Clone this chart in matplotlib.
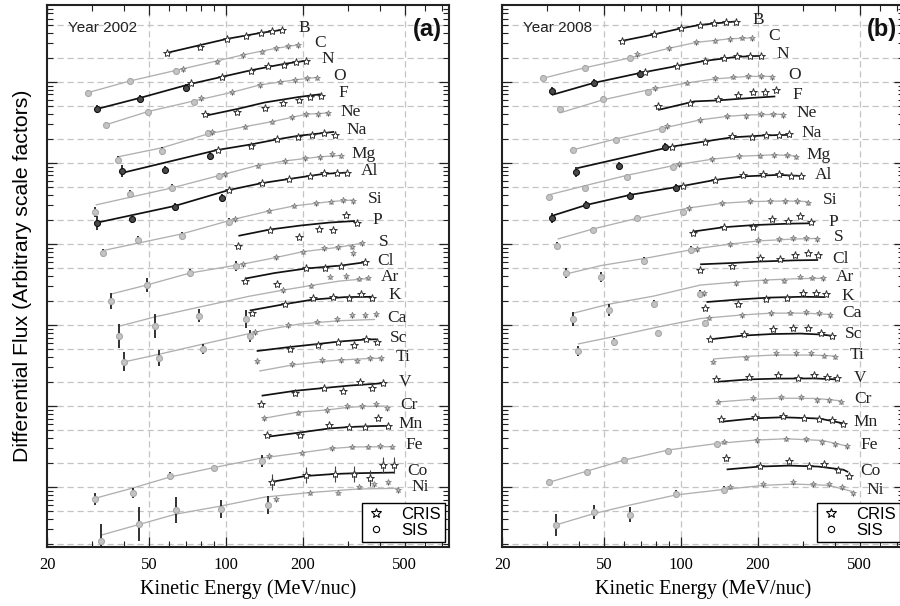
import numpy as np
import matplotlib
matplotlib.use("Agg")
import matplotlib.pyplot as plt
from matplotlib.lines import Line2D
from matplotlib.ticker import FixedLocator, NullFormatter, FixedFormatter, LogLocator

elements = ['B', 'C', 'N', 'O', 'F', 'Ne', 'Na', 'Mg', 'Al', 'Si', 'P', 'S',
            'Cl', 'Ar', 'K', 'Ca', 'Sc', 'Ti', 'V', 'Cr', 'Mn', 'Fe', 'Co', 'Ni']
years = ['2002', '2008']
panel_tags = ['(a)', '(b)']
x_tick_values = [20, 50, 100, 200, 500]
x_tick_labels = ['20', '50', '100', '200', '500']

# ---------------- Year 2002 (panel a) ----------------
cris_E_2002 = [
    [59, 79, 101, 120, 137, 151, 166], [68, 92, 117, 138, 157, 175, 192],
    [73, 97, 125, 146, 169, 188, 205], [80, 106, 136, 163, 186, 208, 227],
    [83, 111, 142, 168, 193, 213, 235], [88, 119, 152, 181, 206, 230, 251],
    [93, 125, 159, 191, 218, 242, 266], [99, 133, 170, 204, 233, 261, 283],
    [103, 138, 177, 213, 241, 271, 297], [109, 147, 185, 225, 257, 287, 315],
    [112, 149, 194, 231, 263, 294, 325], [117, 157, 200, 241, 275, 310, 340, 313],
    [119, 159, 206, 244, 282, 350], [168, 215, 255, 294, 332, 360],
    [127, 170, 220, 263, 304, 338, 372], [130, 175, 227, 271, 310, 350, 387],
    [178, 230, 275, 316, 353, 389], [132, 182, 237, 283, 325, 366, 404],
    [137, 186, 242, 288, 333, 372, 410], [141, 192, 248, 297, 342, 386, 426],
    [145, 195, 253, 302, 350, 393, 431], [148, 199, 259, 310, 358, 401, 445],
    [151, 206, 266, 318, 366, 413, 456], [157, 213, 275, 330, 381, 430, 472]]
cris_F_2002 = [
    [2.29e5, 2.67e5, 3.40e5, 3.70e5, 4.03e5, 4.27e5, 4.39e5],
    [1.45e5, 1.78e5, 2.16e5, 2.36e5, 2.60e5, 2.74e5, 2.87e5],
    [9.65e4, 1.16e5, 1.37e5, 1.57e5, 1.64e5, 1.78e5, 1.82e5],
    [6.3e4, 7.47e4, 9.19e4, 1.01e5, 1.06e5, 1.11e5, 1.13e5],
    [4.02e4, 4.30e4, 4.74e4, 5.56e4, 6.0e4, 6.47e4, 6.72e4],
    [2.40e4, 2.81e4, 3.24e4, 3.66e4, 3.99e4, 4.02e4, 4.10e4],
    [1.45e4, 1.64e4, 1.96e4, 2.12e4, 2.22e4, 2.37e4, 2.22e4],
    [7.26e3, 9.27e3, 1.06e4, 1.14e4, 1.18e4, 1.29e4, 1.23e4],
    [4.64e3, 5.63e3, 6.35e3, 6.92e3, 7.48e3, 7.48e3, 7.61e3],
    [2.04e3, 2.58e3, 2.97e3, 3.18e3, 3.33e3, 3.49e3, 3.39e3],
    [944, 1.49e3, 1.23e3, 1.53e3, 1.49e3, 2.28e3, 1.80e3],
    [561, 685, 803, 885, 910, 925, 1.02e3, 768],
    [349, 320, 501, 510, 535, 594],
    [270, 305, 395, 402, 373, 384],
    [140, 181, 213, 223, 217, 241, 213],
    [81.8, 100, 110, 118, 133, 133, 136],
    [50.5, 56.1, 62.2, 56.6, 66.6, 61.6],
    [36.0, 33.0, 37.0, 37.0, 36.3, 38.8, 38.8],
    [10.6, 14.6, 16.6, 15.5, 19.9, 16.6, 19.1],
    [7.06, 8.27, 8.93, 10.0, 10.0, 10.6, 9.38],
    [4.39, 4.39, 5.83, 5.56, 5.56, 7.18, 5.71],
    [2.43, 2.66, 3.01, 3.15, 3.15, 3.21, 3.15],
    [1.16, 1.42, 1.46, 1.46, 1.29, 1.87, 1.87],
    [0.705, 0.852, 0.852, 1.01, 1.08, 1.14, 0.919]]
cris_err_2002 = [0.04, 0.08, 0.04, 0.08, 0.04, 0.08, 0.04, 0.08, 0.04, 0.08, 0.04, 0.08,
                 0.04, 0.08, 0.04, 0.08, 0.04, 0.08, 0.04, 0.08, 0.04, 0.08, 0.25, 0.08]
sis_E_2002 = [
    [], [28.9, 42.3, 63.8], [31.5, 46.2, 69.9], [33.9, 49.5, 75.1], [],
    [38.0, 56.2, 85.1], [39.4, 57.8, 87.0], [30.8, 42.3, 61.8, 94.3],
    [31.3, 43.1, 63.3, 96.3], [33.2, 45.4, 67.2, 103], [], [35.6, 49.0, 72.4, 110],
    [], [38.2, 52.9, 78.8, 120], [], [40.0, 54.9, 81.7, 124], [], [], [], [], [],
    [30.8, 43.3, 60.5, 90.1, 138], [], [32.5, 45.9, 63.9, 95.7, 146]]
sis_F_2002 = [
    [], [7.38e4, 1.03e5, 1.38e5], [4.68e4, 6.12e4, 8.37e4], [2.95e4, 4.3e4, 5.62e4], [],
    [1.09e4, 1.42e4, 2.33e4], [8.04e3, 8.2e3, 1.22e4], [2.48e3, 4.15e3, 4.96e3, 6.92e3],
    [1.83e3, 2.04e3, 2.89e3, 3.73e3], [781, 1.12e3, 1.26e3, 1.86e3], [], [199, 311, 438, 539],
    [], [73.1, 98, 130, 118], [], [35.3, 38.8, 50.1, 73.1], [], [], [], [], [],
    [0.711, 0.837, 1.37, 1.73, 2.09], [], [0.216, 0.347, 0.52, 0.53, 0.60]]
sis_err_2002 = [
    [], [0.09, 0.09, 0.09], [0.12, 0.12, 0.12], [0.09, 0.09, 0.09], [],
    [0.12, 0.12, 0.09], [0.19, 0.12, 0.12], [0.15, 0.12, 0.1, 0.1],
    [0.22, 0.12, 0.12, 0.12], [0.12, 0.12, 0.12, 0.12], [], [0.25, 0.22, 0.12, 0.15],
    [], [0.4, 0.4, 0.2, 0.3], [], [0.3, 0.25, 0.15, 0.18], [], [], [], [], [],
    [0.19, 0.15, 0.12, 0.09, 0.19], [], [0.6, 0.62, 0.45, 0.29, 0.29]]
line_E_2002 = [
    [59, 101, 137, 166], [28.9, 42.3, 67.8, 117, 157, 192],
    [31.4, 46.2, 73, 125, 169, 204], [33.9, 49.5, 75.1, 106, 136, 186, 228],
    [82.3, 111, 142, 193, 235], [37.9, 56.3, 85.1, 119, 152, 206, 251],
    [39.3, 93.1, 125, 158, 191, 265], [31.0, 61.6, 98.5, 132, 170, 233, 283],
    [31.3, 63.3, 103, 138, 177, 241, 297], [33.2, 67.2, 109, 147, 185, 257, 314],
    [112, 149, 196, 255, 320], [35.6, 49.0, 72.4, 117, 157, 200, 275, 340],
    [119, 155, 206, 282, 344], [38.6, 52.9, 78.5, 124, 168, 215, 279, 359],
    [124, 170, 219, 292, 376], [39.8, 55.3, 81.8, 142, 195, 279, 383],
    [132, 177, 229, 279, 352, 389], [135, 182, 236, 282, 362, 404],
    [138, 186, 242, 306, 410], [141, 192, 248, 297, 340, 426],
    [146, 195, 253, 302, 350, 431], [30.8, 43.3, 60.5, 89.9, 138, 199, 259, 310, 445],
    [151, 206, 265, 318, 458], [32.7, 63.9, 95.7, 142, 213, 329, 472]]
line_F_2002 = [
    [2.29e5, 3.40e5, 4.03e5, 4.39e5], [7.38e4, 1.03e5, 1.45e5, 2.16e5, 2.6e5, 2.87e5],
    [4.64e4, 6.35e4, 9.46e4, 1.39e5, 1.67e5, 1.82e5],
    [2.95e4, 4.3e4, 5.83e4, 7.47e4, 9.19e4, 1.06e5, 1.14e5],
    [3.8e4, 4.64e4, 5.58e4, 6.52e4, 7.05e4],
    [1.19e4, 1.54e4, 2.28e4, 2.81e4, 3.24e4, 3.99e4, 4.14e4],
    [7.53e3, 1.45e4, 1.69e4, 1.95e4, 2.16e4, 2.42e4],
    [3.03e3, 4.92e3, 7.26e3, 9.27e3, 1.06e4, 1.19e4, 1.24e4],
    [1.83e3, 2.95e3, 4.64e3, 5.63e3, 6.35e3, 7.33e3, 7.61e3],
    [831, 1.33e3, 2.04e3, 2.55e3, 2.95e3, 3.34e3, 3.49e3],
    [1.26e3, 1.51e3, 1.69e3, 1.84e3, 1.92e3],
    [241, 311, 438, 566, 681, 803, 910, 1.02e3],
    [374, 438, 498, 542, 590],
    [97.2, 126, 166, 227, 270, 307, 349, 374],
    [151, 181, 206, 221, 223],
    [34.9, 43.8, 58.3, 86.7, 103, 113, 117],
    [47.7, 53.4, 58.3, 62.6, 66.2, 66.6],
    [27.0, 32.1, 35.4, 37.0, 38.6, 38.8],
    [13.4, 15.4, 16.7, 17.9, 19.1],
    [7.06, 8.43, 8.93, 9.59, 9.87, 10.0],
    [4.18, 4.71, 5.28, 5.5, 5.61, 5.71],
    [0.726, 0.973, 1.33, 1.74, 2.28, 2.66, 2.99, 3.12, 3.15],
    [1.16, 1.37, 1.45, 1.48, 1.51],
    [0.256, 0.464, 0.583, 0.752, 0.855, 0.946, 0.965]]

# ---------------- Year 2008 (panel b) ----------------
cris_E_2008 = [
    [58.8, 78.5, 100, 119, 135, 150, 165], [67.2, 89.8, 115, 136, 155, 173, 190],
    [72.4, 96.3, 124, 147, 166, 186, 205], [79.2, 106, 136, 160, 183, 205, 227],
    [81.7, 109, 140, 167, 191, 213, 236], [88.0, 119, 151, 179, 205, 229, 251],
    [92.0, 124, 159, 189, 216, 241, 265], [98.6, 132, 169, 203, 231, 259, 283],
    [102, 136, 175, 210, 241, 269, 295], [108, 145, 186, 223, 255, 285, 313],
    [112, 147, 192, 228, 263, 293, 323], [116, 156, 200, 241, 275, 309, 340],
    [119, 158, 204, 244, 279, 313, 345], [123, 165, 213, 253, 292, 326, 359],
    [124, 168, 216, 259, 300, 337, 370], [129, 174, 225, 268, 308, 347, 382],
    [130, 177, 229, 274, 315, 352, 389], [134, 180, 235, 281, 323, 363, 401],
    [137, 184, 240, 286, 330, 372, 409], [140, 191, 246, 295, 340, 378, 422],
    [143, 195, 251, 302, 348, 389, 430], [148, 198, 258, 308, 357, 401, 445],
    [150, 204, 265, 316, 363, 412, 455], [155, 210, 274, 328, 379, 426, 469]]
cris_F_2008 = [
    [3.21e5, 3.86e5, 4.61e5, 5.06e5, 5.31e5, 5.5e5, 5.43e5],
    [2.22e5, 2.6e5, 3.08e5, 3.23e5, 3.40e5, 3.53e5, 3.47e5],
    [1.34e5, 1.57e5, 1.83e5, 2.0e5, 2.06e5, 2.1e5, 2.1e5],
    [8.31e4, 9.82e4, 1.11e5, 1.16e5, 1.19e5, 1.19e5, 1.14e5],
    [5.05e4, 5.56e4, 6.17e4, 6.91e4, 7.47e4, 7.47e4, 7.97e4],
    [2.87e4, 3.40e4, 3.8e4, 3.8e4, 3.99e4, 3.99e4, 3.91e4],
    [1.59e4, 1.83e4, 2.16e4, 2.12e4, 2.22e4, 2.22e4, 2.26e4],
    [9.6e3, 1.11e4, 1.22e4, 1.23e4, 1.26e4, 1.26e4, 1.2e4],
    [5.21e3, 6.17e3, 7.12e3, 7.26e3, 7.33e3, 6.92e3, 6.92e3],
    [2.79e3, 3.18e3, 3.39e3, 3.39e3, 3.39e3, 3.39e3, 3.24e3],
    [1.35e3, 1.63e3, 1.63e3, 2.02e3, 1.92e3, 2.23e3, 1.89e3],
    [862, 990, 1.12e3, 1.14e3, 1.18e3, 1.18e3, 1.15e3],
    [484, 535, 666, 647, 721, 768, 721],
    [246, 327, 352, 352, 395, 384, 377],
    [161, 181, 207, 213, 246, 246, 241],
    [123, 131, 140, 142, 144, 140, 133],
    [66.6, 77.4, 88.4, 91, 92.6, 79, 73.7],
    [35.3, 39.5, 44.7, 44.7, 44.7, 41.8, 40.6],
    [21.3, 23.0, 24.1, 22.3, 24.1, 23.0, 22.0],
    [11.3, 12.5, 12.8, 12.8, 11.9, 11.7, 11.3],
    [6.86, 7.39, 7.53, 7.18, 6.86, 6.72, 6.0],
    [3.63, 3.81, 3.95, 3.89, 3.6, 3.40, 3.21],
    [2.30, 1.84, 2.09, 1.83, 1.92, 1.62, 1.37],
    [1.01, 1.09, 1.16, 1.09, 1.08, 1.0, 0.837]]
cris_err_2008 = [0.04, 0.08, 0.04, 0.08, 0.04, 0.08, 0.04, 0.08, 0.04, 0.08, 0.04, 0.08,
                 0.04, 0.08, 0.04, 0.08, 0.04, 0.08, 0.04, 0.08, 0.04, 0.08, 0.1, 0.08]
sis_E_2008 = [
    [], [28.9, 42.3, 63.3], [31.3, 45.7, 69.3], [33.6, 49.5, 74.5], [],
    [37.8, 55.8, 84.4], [38.9, 57.5, 86.9], [30.4, 42.1, 61.4, 93.4],
    [31.3, 42.7, 63.3, 95.7], [32.9, 45.3, 67.2, 102], [], [35.6, 48.8, 71.8, 110],
    [], [38.0, 52.4, 78.2, 119], [], [39.7, 54.8, 81.2, 124], [], [], [], [], [],
    [30.4, 42.9, 59.9, 89.4, 138], [], [32.4, 45.7, 63.3, 95.4, 147]]
sis_F_2008 = [
    [], [1.11e5, 1.5e5, 1.95e5], [7.75e4, 9.73e4, 1.26e5], [4.57e4, 6.17e4, 7.6e4], [],
    [1.45e4, 1.9e4, 2.61e4], [7.81e3, 9.27e3, 1.58e4], [3.78e3, 4.88e3, 6.79e3, 8.93e3],
    [2.08e3, 3.03e3, 3.92e3, 4.96e3], [957, 1.49e3, 2.07e3, 2.51e3], [], [438, 395, 625, 843],
    [], [118, 153, 180, 241], [], [47.7, 61.2, 79, 105], [], [], [], [], [],
    [1.14, 1.52, 2.15, 2.81, 3.43], [], [0.340, 0.487, 0.455, 0.813, 0.927]]
sis_err_2008 = [
    [], [0.09, 0.09, 0.09], [0.12, 0.12, 0.12], [0.09, 0.09, 0.09], [],
    [0.09, 0.09, 0.09], [0.15, 0.12, 0.12], [0.09, 0.09, 0.09, 0.09],
    [0.15, 0.12, 0.12, 0.12], [0.09, 0.09, 0.09, 0.09], [], [0.15, 0.15, 0.12, 0.12],
    [], [0.22, 0.19, 0.12, 0.12], [], [0.15, 0.12, 0.09, 0.09], [], [], [], [], [],
    [0.09, 0.09, 0.09, 0.09, 0.09], [], [0.35, 0.22, 0.24, 0.12, 0.12]]
line_E_2008 = [
    [58.8, 78.5, 101, 119, 164], [28.9, 42.3, 63.3, 89.8, 115, 155, 190],
    [31.3, 45.7, 69.3, 96.3, 124, 166, 205], [33.6, 49.5, 74.4, 106, 136, 183, 227],
    [81.5, 113, 140, 190, 234], [37.8, 55.8, 84.4, 119, 151, 179, 253],
    [39.3, 92.0, 124, 158, 215, 265], [30.4, 41.9, 61.4, 98.5, 132, 169, 231, 283],
    [31.3, 42.7, 63.3, 102, 136, 175, 240, 295], [33.0, 45.3, 67.3, 108, 145, 186, 255, 313],
    [111, 147, 192, 263, 324], [35.6, 48.8, 71.7, 118, 157, 200, 275, 340],
    [119, 158, 204, 279, 344], [38.0, 52.4, 78.1, 119, 165, 213, 292, 359],
    [126, 170, 222, 298, 367], [39.6, 54.8, 81.3, 119, 173, 225, 308, 382],
    [130, 176, 228, 293, 352, 389], [134, 180, 233, 323, 401],
    [138, 184, 240, 331, 409], [139, 190, 246, 338, 422],
    [144, 195, 250, 348, 430], [30.4, 42.9, 60.0, 89.4, 138, 198, 258, 357, 445],
    [151, 204, 265, 344, 431, 451], [32.4, 45.7, 63.3, 95.4, 146, 211, 275, 379, 469]]
line_F_2008 = [
    [3.21e5, 3.86e5, 4.61e5, 5.06e5, 5.58e5],
    [1.11e5, 1.5e5, 1.98e5, 2.6e5, 3.08e5, 3.40e5, 3.5e5],
    [6.91e4, 9.73e4, 1.29e5, 1.57e5, 1.82e5, 2.04e5, 2.1e5],
    [4.14e4, 6.0e4, 7.97e4, 9.73e4, 1.09e5, 1.17e5, 1.17e5],
    [4.51e4, 5.75e4, 5.92e4, 6.35e4, 6.62e4],
    [1.45e4, 1.98e4, 2.67e4, 3.4e4, 3.75e4, 3.91e4, 3.99e4],
    [8.61e3, 1.59e4, 1.84e4, 2.07e4, 2.19e4, 2.22e4],
    [4.03e3, 5.21e3, 7.02e3, 9.6e3, 1.11e4, 1.21e4, 1.26e4, 1.22e4],
    [2.22e3, 3.03e3, 4.03e3, 5.21e3, 6.17e3, 6.82e3, 7.12e3, 6.92e3],
    [1.15e3, 1.53e3, 2.07e3, 2.79e3, 3.18e3, 3.34e3, 3.39e3, 3.34e3],
    [1.42e3, 1.61e3, 1.71e3, 1.78e3, 1.8e3],
    [426, 542, 661, 885, 999, 1.09e3, 1.15e3, 1.17e3],
    [561, 582, 607, 628, 634],
    [140, 181, 227, 311, 339, 359, 374, 377],
    [192, 207, 218, 223, 221],
    [58.3, 72.0, 94.4, 120, 133, 140, 140, 135],
    [66.6, 74.1, 77.4, 78.4, 76.3, 73.7],
    [38.1, 41.0, 42.6, 42.6, 41.4],
    [19.9, 21.3, 21.8, 21.9, 21.3],
    [11.2, 12.1, 12.5, 12.4, 11.6],
    [6.4, 7.06, 7.26, 7.01, 6.12],
    [1.14, 1.57, 2.15, 2.87, 3.44, 3.81, 3.94, 3.76, 3.21],
    [1.65, 1.79, 1.84, 1.79, 1.64, 1.53],
    [0.340, 0.470, 0.600, 0.797, 0.932, 1.05, 1.09, 1.05, 0.880]]

# ---------------- drawing ----------------
SERIF = ['Liberation Serif', 'DejaVu Serif']
SANS = ['Liberation Sans', 'DejaVu Sans']

W, H = 900, 606
fig = plt.figure(figsize=(W / 100, H / 100), dpi=100)
ax_a = fig.add_axes([47 / W, 1 - 547 / H, 402 / W, 542 / H])
ax_b = fig.add_axes([502 / W, 1 - 547 / H, 402 / W, 542 / H])

panels = [
    (ax_a, cris_E_2002, cris_F_2002, cris_err_2002, sis_E_2002, sis_F_2002, sis_err_2002,
     line_E_2002, line_F_2002),
    (ax_b, cris_E_2008, cris_F_2008, cris_err_2008, sis_E_2008, sis_F_2008, sis_err_2008,
     line_E_2008, line_F_2008),
]

grid_y = [0.2, 0.5, 1, 2, 5, 10, 20, 50, 100, 200, 500, 1e3, 2e3, 5e3,
          1e4, 2e4, 5e4, 1e5, 2e5, 5e5]
grid_x = [50, 100, 200, 500]

for p, (ax, cE, cF, cErr, sE, sF, sErr, lE, lF) in enumerate(panels):
    ax.set_xscale('log')
    ax.set_yscale('log')
    ax.set_xlim(20, 745)
    ax.set_ylim(0.182, 8.9e5)

    for gy in grid_y:
        ax.axhline(gy, color='#c4c4c4', lw=0.9, ls=(0, (5, 3)), zorder=0)
    for gx in grid_x:
        ax.axvline(gx, color='#c4c4c4', lw=0.9, ls=(0, (5, 3)), zorder=0)

    for i, el in enumerate(elements):
        dark = (i % 2 == 0)
        lcol = '#111111' if dark else '#b0b0b0'
        ax.plot(lE[i], lF[i], color=lcol, lw=1.25 if dark else 0.95, zorder=2,
                solid_capstyle='butt')
        if len(sE[i]):
            F = np.array(sF[i])
            r = np.array(sErr[i])
            yerr = [F - F / (1 + r), F * r]
            ax.errorbar(sE[i], F, yerr=yerr, fmt='o', ms=4.3,
                        mfc='#4a4a4a' if dark else '#c4c4c4',
                        mec='#111111' if dark else '#a8a8a8', mew=0.8,
                        ecolor='#222222', elinewidth=1.3, capsize=0, zorder=3)
        F = np.array(cF[i])
        r = cErr[i]
        yerr = [F - F / (1 + r), F * r]
        if dark:
            ax.errorbar(cE[i], F, yerr=yerr, fmt='*', ms=6, mfc='white',
                        mec='#333333', mew=0.7, ecolor='#444444', elinewidth=0.8,
                        capsize=0, zorder=4)
        else:
            ax.errorbar(cE[i], F, yerr=yerr, fmt='*', ms=3.8, mfc='#bdbdbd',
                        mec='#7a7a7a', mew=0.5, ecolor='#555555', elinewidth=0.8,
                        capsize=0, zorder=4)
        ax.annotate(el, xy=(lE[i][-1], lF[i][-1]), xytext=(16, 1),
                    textcoords='offset points', ha='center', va='center',
                    fontsize=12.5, family=SERIF, color='#222222', zorder=5)

    # ticks
    ax.xaxis.set_major_locator(FixedLocator(x_tick_values))
    ax.xaxis.set_major_formatter(FixedFormatter(x_tick_labels))
    ax.xaxis.set_minor_locator(FixedLocator([30, 40, 60, 70, 80, 90, 300, 400, 600, 700]))
    ax.xaxis.set_minor_formatter(NullFormatter())
    ax.yaxis.set_major_locator(LogLocator(base=10, numticks=20))
    ax.yaxis.set_minor_locator(LogLocator(base=10, subs=np.arange(2, 10), numticks=20))
    ax.yaxis.set_major_formatter(NullFormatter())
    ax.yaxis.set_minor_formatter(NullFormatter())
    ax.tick_params(which='both', direction='in', top=True, right=True, color='#222222')
    ax.tick_params(which='major', length=7, width=0.9)
    ax.tick_params(which='minor', length=4, width=0.8)
    for lab in ax.get_xticklabels():
        lab.set_fontfamily(SERIF)
        lab.set_fontsize(12)
    ax.tick_params(axis='x', pad=7)
    for s in ax.spines.values():
        s.set_linewidth(1.5)
        s.set_color('#222222')

    ax.set_xlabel('Kinetic Energy (MeV/nuc)', fontsize=14.5, family=SERIF, labelpad=5)

    ax.text(0.052, 0.958, 'Year ' + years[p], transform=ax.transAxes, fontsize=11,
            family=SANS, ha='left', va='center', color='#222222')
    ax.text(0.945, 0.955, panel_tags[p], transform=ax.transAxes, fontsize=17,
            family=SANS, fontweight='bold', ha='center', va='center', color='#111111')

    handles = [
        Line2D([], [], ls='none', marker='*', ms=7, mfc='white', mec='black', mew=0.8),
        Line2D([], [], ls='none', marker='o', ms=4.5, mfc='white', mec='black', mew=0.8),
    ]
    leg = ax.legend(handles, ['CRIS', 'SIS'], loc='lower right',
                    bbox_to_anchor=(0.99, 0.009), borderaxespad=0, fancybox=False,
                    framealpha=1, edgecolor='black', handlelength=1.2, handletextpad=0.9,
                    borderpad=0.25, labelspacing=0.05,
                    prop={'family': SANS, 'size': 12})
    leg.get_frame().set_linewidth(1.0)

ax_a.set_ylabel('Differential Flux (Arbitrary scale factors)', fontsize=15.3,
                family=SANS, labelpad=7)

fig.savefig('out.png', dpi=100)
